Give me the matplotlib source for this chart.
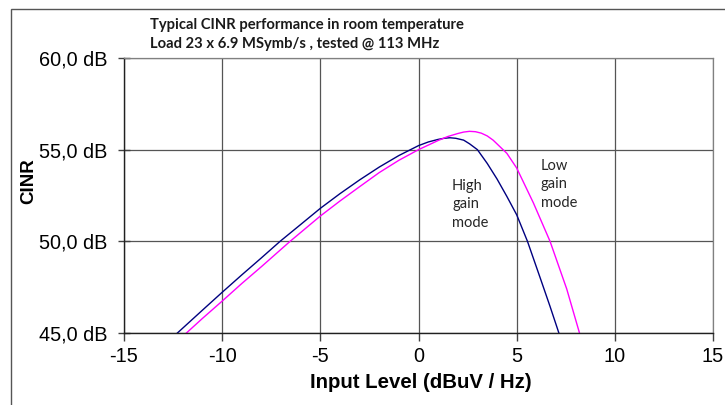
"""
Typical CINR performance versus input level, high and low gain mode.
"""

import matplotlib
matplotlib.use("Agg")
import matplotlib.pyplot as plt
from matplotlib.patches import Rectangle


# Values.
high_gain_x = [-12.28, -11, -10, -9, -8, -7.05, -6, -5, -4, -3, -2, -1, 0,
               0.5, 1, 1.3, 1.6, 1.9, 2.3, 2.6, 3, 3.5, 4, 4.5, 5, 5.55,
               6.2, 6.7, 7.15]
high_gain_y = [45.0, 46.25, 47.22, 48.17, 49.1, 50.0, 50.92, 51.8, 52.6, 53.35,
               54.05, 54.68, 55.22, 55.42, 55.56, 55.62, 55.65, 55.62, 55.52,
               55.32, 55.0, 54.25, 53.4, 52.45, 51.45, 50.0, 48.0, 46.45, 45.0]

low_gain_x = [-11.82, -11, -10, -9, -8, -6.54, -5, -4, -3, -2, -1, 0, 1, 1.5,
              2, 2.3, 2.6, 2.9, 3.2, 3.5, 3.8, 4.5, 5, 5.85, 6.7, 7.55, 8.2]
low_gain_y = [45.0, 45.8, 46.74, 47.7, 48.62, 50.0, 51.38, 52.2, 52.98, 53.75,
              54.42, 55.0, 55.5, 55.72, 55.88, 55.96, 56.0, 55.98, 55.9, 55.75,
              55.52, 54.8, 54.0, 52.1, 50.0, 47.4, 45.0]

x_ticks = [-15, -10, -5, 0, 5, 10, 15]
x_tick_labels = ["-15", "-10", "-5", "0", "5", "10", "15"]
y_ticks = [45, 50, 55, 60]
y_tick_labels = ["45,0 dB", "50,0 dB", "55,0 dB", "60,0 dB"]

TITLE_LINES = ["Typical CINR performance in room temperature",
               "Load 23 x 6.9 MSymb/s , tested @ 113 MHz"]

W, H = 725, 405

fig = plt.figure(figsize=(W / 100, H / 100), dpi=100)
ax = fig.add_axes([124 / W, 1 - 333 / H, (713 - 124) / W, (333 - 58) / H])

# The two curves.
ax.plot(high_gain_x, high_gain_y, color="#000080", linewidth=1.0)
ax.plot(low_gain_x, low_gain_y, color="#ff00ff", linewidth=1.0)

ax.set_xlim(-15, 15)
ax.set_ylim(45, 60)
ax.set_xticks(x_ticks)
ax.set_xticklabels(x_tick_labels, fontsize=14.3, family="Liberation Sans")
ax.set_yticks(y_ticks)
ax.set_yticklabels(y_tick_labels, fontsize=14.3, family="Liberation Sans")
ax.tick_params(axis="x", direction="out", length=6, width=1, pad=4,
               color="#404040")
ax.tick_params(axis="y", direction="inout", length=8, width=1, pad=8,
               color="#404040")

# Grid lines and frame.
ax.grid(True, color="#555555", linewidth=0.9)
ax.set_axisbelow(True)
for side in ["top", "right"]:
    ax.spines[side].set_color("#808080")
    ax.spines[side].set_linewidth(0.9)
for side in ["left", "bottom"]:
    ax.spines[side].set_color("#202020")
    ax.spines[side].set_linewidth(1.0)

# Axis labels.
fig.text(421 / W, 1 - 383 / H, "Input Level (dBuV / Hz)", fontsize=14.7,
         fontweight="bold", family="Liberation Sans", ha="center", va="center")
fig.text(29 / W, 1 - 181 / H, "CINR", fontsize=13.5, fontweight="bold",
         family="Liberation Sans", rotation=90, ha="center", va="center")

# Title, two lines.
fig.text(150 / W, 1 - 25 / H, TITLE_LINES[0], fontsize=10.6, fontweight="bold",
         family="Lato", color="#1a1a1a", ha="left", va="center")
fig.text(150 / W, 1 - 44 / H, TITLE_LINES[1], fontsize=10.6, fontweight="bold",
         family="Lato", color="#1a1a1a", ha="left", va="center")

# Curve annotations.
ax.text(1.71, 53.4, "High\ngain\nmode", fontsize=10.5, family="Lato",
        color="#262626", ha="left", va="top", linespacing=1.4)
ax.text(6.22, 54.5, "Low\ngain\nmode", fontsize=10.5, family="Lato",
        color="#262626", ha="left", va="top", linespacing=1.4)

# Outer chart border.
fig.patches.append(Rectangle((11 / W, -0.1), 1.2, 0.1 + (1 - 9 / H),
                             transform=fig.transFigure, fill=False,
                             edgecolor="#555555", linewidth=1.0))

plt.savefig("out.png", dpi=100)
